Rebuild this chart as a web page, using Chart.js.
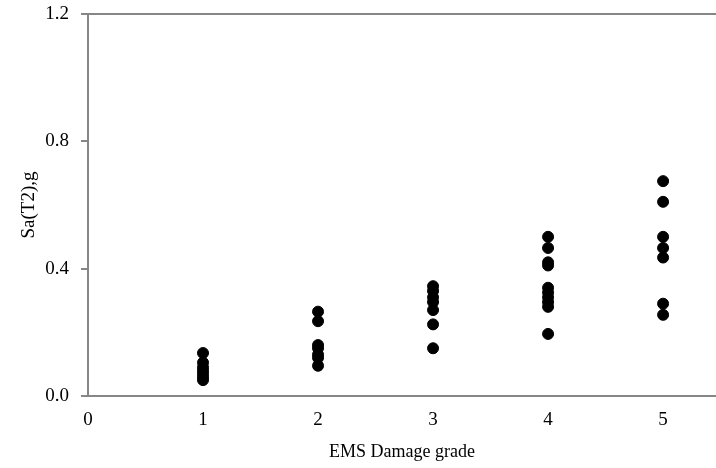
<!DOCTYPE html>
<html>
<head>
<meta charset="utf-8">
<script src="https://cdn.jsdelivr.net/npm/chart.js@4/dist/chart.umd.min.js"></script>
<style>
  html, body { margin: 0; padding: 0; background: #ffffff; }
  #wrap { position: relative; width: 716px; height: 468px; }
</style>
</head>
<body>
<div id="wrap"><canvas id="grafico"></canvas></div>
<script>
// valores (Sa(T2) em g por grau de dano EMS)
const grausDano = [1, 2, 3, 4, 5];
const grau1 = [0.135, 0.105, 0.09, 0.08, 0.07, 0.06, 0.05];
const grau2 = [0.265, 0.235, 0.16, 0.15, 0.13, 0.12, 0.095];
const grau3 = [0.345, 0.33, 0.31, 0.295, 0.27, 0.225, 0.15];
const grau4 = [0.5, 0.465, 0.42, 0.41, 0.34, 0.325, 0.31, 0.295, 0.28, 0.195];
const grau5 = [0.675, 0.61, 0.5, 0.465, 0.435, 0.29, 0.255];
const ticksX = [0, 1, 2, 3, 4, 5];
const ticksY = [0.0, 0.4, 0.8, 1.2];

const cinza = '#868686';
const fonte = "'Liberation Serif', 'Times New Roman', serif";

const listas = [grau1, grau2, grau3, grau4, grau5];
const pontos = [];
for (let i = 0; i < grausDano.length; i++) {
    for (let j = 0; j < listas[i].length; j++) {
        pontos.push({ x: grausDano[i], y: listas[i][j] });
    }
}

// linha de cima da area do grafico
const bordaTopo = {
    id: 'bordaTopo',
    afterDraw(chart) {
        const ctx = chart.ctx;
        const a = chart.chartArea;
        ctx.save();
        ctx.strokeStyle = cinza;
        ctx.lineWidth = 2;
        ctx.beginPath();
        ctx.moveTo(a.left, a.top);
        ctx.lineTo(a.right, a.top);
        ctx.stroke();
        ctx.restore();
    }
};

new Chart(document.getElementById('grafico'), {
    type: 'scatter',
    data: {
        datasets: [{
            label: 'Sa(T2)',
            data: pontos,
            backgroundColor: '#000000',
            borderColor: '#000000',
            borderWidth: 1,
            pointRadius: 5.5,
            pointHoverRadius: 5.5
        }]
    },
    options: {
        responsive: true,
        maintainAspectRatio: false,
        animation: false,
        layout: {
            autoPadding: false,
            padding: { top: 14, left: 0, right: 0, bottom: 0 }
        },
        plugins: {
            legend: { display: false },
            tooltip: { enabled: false }
        },
        scales: {
            x: {
                type: 'linear',
                min: 0,
                max: 5.46,
                afterBuildTicks: (s) => { s.ticks = ticksX.map(v => ({ value: v })); },
                afterFit: (s) => { s.height = 72; s.paddingLeft = 0; s.paddingRight = 0; },
                grid: { display: true, drawOnChartArea: false, drawTicks: false },
                border: { color: cinza, width: 2 },
                ticks: {
                    color: '#000000',
                    padding: 13,
                    font: { family: fonte, size: 19 }
                },
                title: {
                    display: true,
                    text: 'EMS Damage grade',
                    color: '#000000',
                    font: { family: fonte, size: 18 },
                    padding: { top: 8, bottom: 5 }
                }
            },
            y: {
                min: 0,
                max: 1.2,
                afterBuildTicks: (s) => { s.ticks = ticksY.map(v => ({ value: v })); },
                afterFit: (s) => { s.width = 88; s.paddingTop = 0; s.paddingBottom = 0; },
                grid: { display: true, drawOnChartArea: false, drawTicks: true, tickLength: 7, color: cinza, lineWidth: 2 },
                border: { color: cinza, width: 2 },
                ticks: {
                    color: '#000000',
                    padding: 12,
                    font: { family: fonte, size: 19 },
                    callback: (v) => Number(v).toFixed(1)
                },
                title: {
                    display: true,
                    text: 'Sa(T2),g',
                    color: '#000000',
                    font: { family: fonte, size: 19 },
                    padding: { top: 18, bottom: 0 }
                }
            }
        }
    },
    plugins: [bordaTopo]
});
</script>
</body>
</html>
